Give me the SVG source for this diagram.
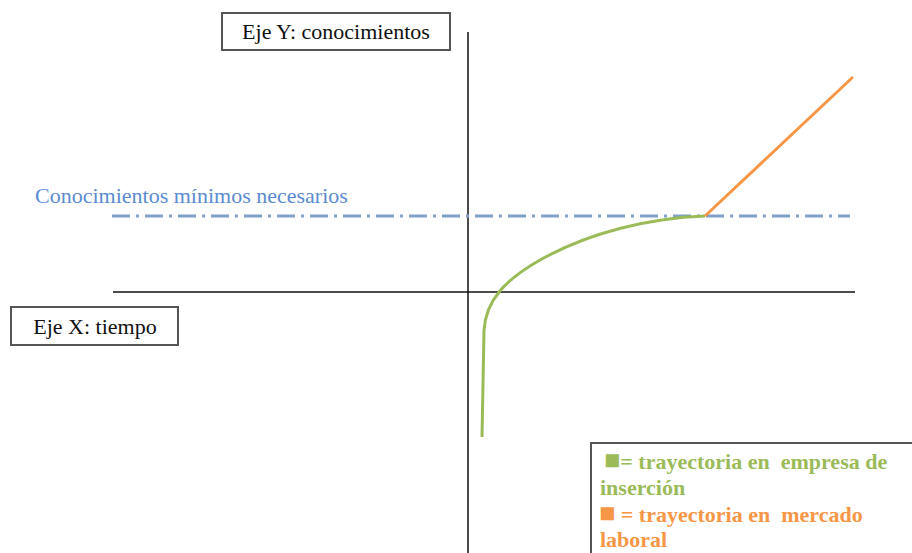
<svg xmlns="http://www.w3.org/2000/svg" width="912" height="553" viewBox="0 0 912 553">
<style>
.box{fill:#fff;stroke:#555;stroke-width:2}
.lbl{font-family:"Liberation Serif",serif;font-size:22px;fill:#111}
.leg{font-family:"Liberation Serif",serif;font-size:22px;font-weight:bold;white-space:pre}
.sq{font-size:27px}
.g{fill:#9bbb59}
.o{fill:#f79646}
.axis{stroke:#111;stroke-width:1.5;fill:none}
</style>
<rect width="912" height="553" fill="#fff"/>
<g id="connectors">
<line class="axis" x1="468" y1="32" x2="468" y2="553"/>
<line class="axis" x1="113" y1="292" x2="855" y2="292"/>
<line x1="112" y1="216" x2="850" y2="216" stroke="#7fa0c8" stroke-width="3" stroke-dasharray="18,6,3,6"/>
<path d="M482,437 L484,330 C486,300 505,280 540,260 C590,232 650,218 705,216" fill="none" stroke="#9bbb59" stroke-width="3"/>
<line x1="705" y1="216" x2="853" y2="77" stroke="#f79646" stroke-width="3"/>
</g>
<g id="eje-y">
<rect class="box" x="222" y="13" width="228" height="37"/>
<text class="lbl" x="336" y="39" text-anchor="middle">Eje Y: conocimientos</text>
</g>
<g id="eje-x">
<rect class="box" x="11" y="307" width="167" height="38"/>
<text class="lbl" x="95" y="334" text-anchor="middle">Eje X: tiempo</text>
</g>
<g id="minimos">
<text x="35" y="203" font-family="Liberation Serif,serif" font-size="22" fill="#5b8bd0">Conocimientos mínimos necesarios</text>
</g>
<g id="legend">
<rect class="box" x="591" y="443" width="330" height="120"/>
<text class="leg g" x="604" y="469" xml:space="preserve"><tspan class="sq">■</tspan>= trayectoria en  empresa de</text>
<text class="leg g" x="600" y="495">inserción</text>
<text class="leg o" x="599" y="522" xml:space="preserve"><tspan class="sq">■</tspan> = trayectoria en  mercado</text>
<text class="leg o" x="600" y="547">laboral</text>
</g>
</svg>
